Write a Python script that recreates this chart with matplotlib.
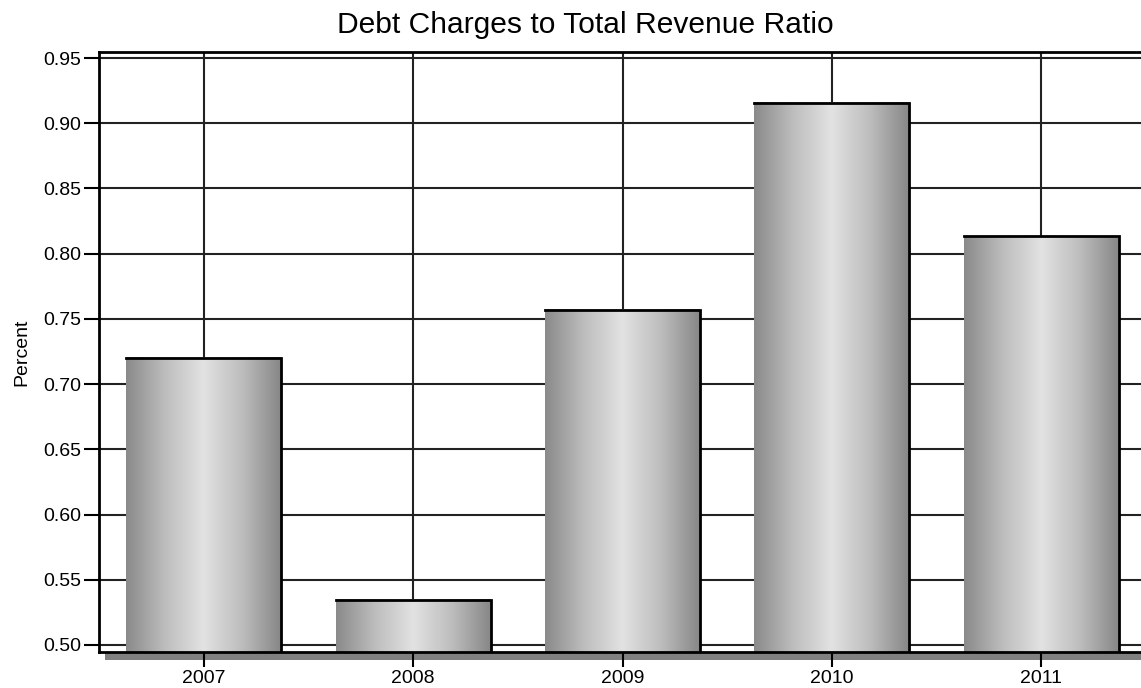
import numpy as np
import matplotlib.pyplot as plt
from matplotlib.patches import Rectangle
from matplotlib.colors import LinearSegmentedColormap

years = ['2007', '2008', '2009', '2010', '2011']
ratios = [0.720, 0.5345, 0.757, 0.9155, 0.8135]
y_ticks = [0.50, 0.55, 0.60, 0.65, 0.70, 0.75, 0.80, 0.85, 0.90, 0.95]

plt.rcParams['font.family'] = ['Liberation Sans', 'DejaVu Sans']

fig = plt.figure(figsize=(11.41, 6.88), dpi=100)
ax = fig.add_axes([0.0868, 0.0523, 0.9176, 0.8721])

y_min, y_max = 0.4946, 0.9546
bar_w = 0.74
x = np.arange(len(years))

# metallic gradient for the bars
shade = LinearSegmentedColormap.from_list(
    'metal', ['#8a8a8a', '#bdbdbd', '#e2e2e2', '#bdbdbd', '#878787'])
grad = np.linspace(0, 1, 256).reshape(1, -1)

for xi, val in zip(x, ratios):
    ax.imshow(grad, cmap=shade, aspect='auto', zorder=2,
              extent=(xi - bar_w / 2, xi + bar_w / 2, y_min - 0.01, val))
    ax.plot([xi - bar_w / 2, xi + bar_w / 2, xi + bar_w / 2],
            [val, val, y_min - 0.01], color='black', lw=2, zorder=3,
            solid_joinstyle='miter')

# grid
for yt in y_ticks:
    ax.axhline(yt, color='#222222', lw=1.5, zorder=1)
for xi in x:
    ax.axvline(xi, color='#222222', lw=1.5, zorder=1)

ax.set_xlim(-0.5, len(years) - 0.5)
ax.set_ylim(y_min, y_max)
ax.set_xticks(x)
ax.set_xticklabels(years)
ax.set_yticks(y_ticks)
ax.set_yticklabels([f'{v:.2f}' for v in y_ticks])
ax.tick_params(axis='both', direction='out', length=11, width=1.5,
               labelsize=14, pad=2, color='black')
for side in ['left', 'bottom', 'top', 'right']:
    ax.spines[side].set_linewidth(2)
    ax.spines[side].set_zorder(4)

ax.set_ylabel('Percent', fontsize=14)
ax.yaxis.set_label_coords(-0.066, 0.5)
fig.text(0.513, 0.952, 'Debt Charges to Total Revenue Ratio', fontsize=21.6,
         ha='center', va='baseline')

# drop shadow under the x axis
ax.add_patch(Rectangle((0.006, -0.014), 1.1, 0.013, transform=ax.transAxes,
                       facecolor='#808080', edgecolor='none', clip_on=False,
                       zorder=0))

fig.savefig('out.png', dpi=100)
